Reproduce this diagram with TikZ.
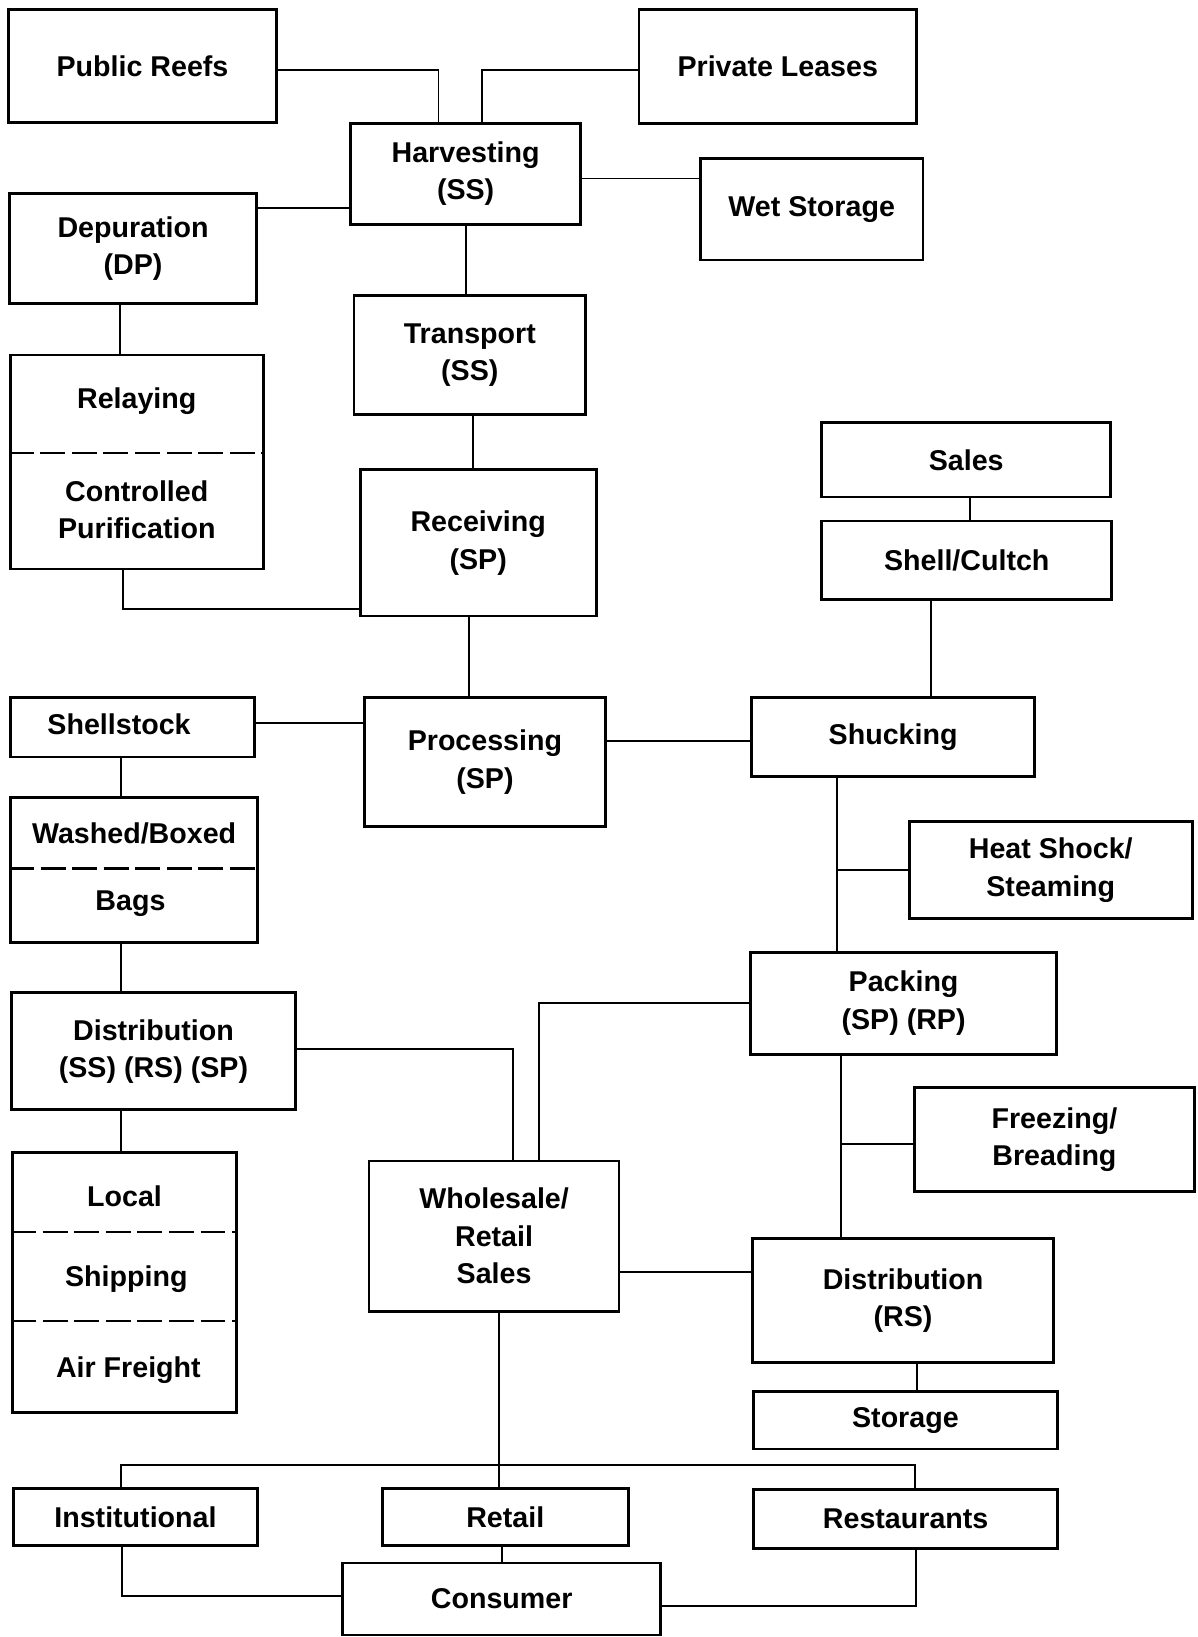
\documentclass[tikz,border=0pt]{standalone}
\usepackage{fontspec}
\setmainfont{Liberation Sans}
\usepackage{tikz}
\usetikzlibrary{positioning,calc}
\tikzset{
  flowbox/.style={draw=black, line width=1.9pt, fill=white, align=center, inner sep=0pt, font=\fontsize{19.5}{25.5}\selectfont\bfseries},
  flowtext/.style={align=center, inner sep=0pt, font=\fontsize{19.5}{25.5}\selectfont\bfseries},
  flowline/.style={line width=1.3pt},
  flowdash/.style={line width=1.6pt, dash pattern=on 17pt off 4.5pt},
  wh/.style 2 args={minimum width=#1*0.025cm, minimum height=#2*0.025cm}
}

\begin{document}
\begin{tikzpicture}[x=0.025cm, y=-0.025cm]
  \useasboundingbox (0,0) rectangle (1147,1568);

  % sources and harvesting
  \node[flowbox, wh={257}{108}] (reefs) at (136.5,63) {Public Reefs};
  \node[flowbox, wh={266}{109}] (leases) at (745,63.5) {Private Leases};
  \node[flowbox, wh={220}{97}] (harvest) at (446,166.5) {Harvesting\\(SS)};
  \node[flowbox, wh={213}{97}] (wetstore) at (777.5,200.5) {Wet Storage};
  \node[flowbox, wh={237}{106}] (depur) at (127.5,238) {Depuration\\(DP)};
  \node[flowbox, wh={222}{114}] (transport) at (450,340) {Transport\\(SS)};
  \node[flowbox, wh={242.5}{205}] (relay) at (131,442.5) {};
  \node[flowtext] (relaytop) at (131,384) {Relaying};
  \node[flowtext] (relaybot) at (131,488) {Controlled\\Purification};
  \node[flowbox, wh={226}{140}] (receive) at (458,520) {Receiving\\(SP)};

  % shell side
  \node[flowbox, wh={277}{71}] (sales) at (925.5,440.5) {Sales};
  \node[flowbox, wh={278}{75}] (shell) at (926,536.5) {Shell/Cultch};

  % processing
  \node[flowbox, wh={234}{57}] (shellstock) at (127,696.5) {};
  \node[flowtext] (shellstocktxt) at (114,694) {Shellstock};
  \node[flowbox, wh={231}{124}] (process) at (464.5,730) {Processing\\(SP)};
  \node[flowbox, wh={271}{76}] (shuck) at (855.5,706) {Shucking};
  \node[flowbox, wh={237}{139}] (washed) at (128.5,833.5) {};
  \node[flowtext] (washedtop) at (128.5,798) {Washed/Boxed};
  \node[flowtext] (washedbot) at (125,866) {Bags};
  \node[flowbox, wh={271}{93}] (heat) at (1006.5,833.5) {Heat Shock/\\Steaming};
  \node[flowbox, wh={293}{98}] (pack) at (865.5,961) {Packing\\(SP) (RP)};
  \node[flowbox, wh={272}{112}] (distss) at (147,1007) {Distribution\\(SS) (RS) (SP)};
  \node[flowbox, wh={268}{99}] (freeze) at (1010,1091.5) {Freezing/\\Breading};

  % distribution
  \node[flowbox, wh={214.5}{249}] (local) at (119.25,1228.5) {};
  \node[flowtext] (localtop) at (119.25,1146) {Local};
  \node[flowtext] (localmid) at (121,1225) {Shipping};
  \node[flowtext] (localbot) at (123,1312) {Air Freight};
  \node[flowbox, wh={239.5}{144}] (wholesale) at (473.25,1184) {Wholesale/\\Retail\\Sales};
  \node[flowbox, wh={288}{119}] (distrs) at (865,1245.5) {Distribution\\(RS)};
  \node[flowbox, wh={291.5}{55}] (storage) at (867.25,1360.5) {Storage};

  % end users
  \node[flowbox, wh={233.5}{54}] (inst) at (129.75,1453) {Institutional};
  \node[flowbox, wh={236}{54}] (retail) at (484,1453) {Retail};
  \node[flowbox, wh={291}{56}] (rest) at (867.5,1455) {Restaurants};
  \node[flowbox, wh={305}{69}] (consumer) at (480.5,1531.5) {Consumer};

  % dividers
  \draw[flowdash] ([yshift=0.2125cm]relay.west) -- ([yshift=0.2125cm]relay.east);
  \draw[flowdash] ([yshift=0.0375cm]washed.west) -- ([yshift=0.0375cm]washed.east);
  \draw[flowdash] ([yshift=1.2125cm]local.west) -- ([yshift=1.2125cm]local.east);
  \draw[flowdash] ([yshift=-0.925cm]local.west) -- ([yshift=-0.925cm]local.east);

  % connectors
  \draw[flowline] ([yshift=-0.1cm]reefs.east) -| ([xshift=-0.65cm]harvest.north);
  \draw[flowline] ([yshift=-0.0875cm]leases.west) -| ([xshift=0.4cm]harvest.north);
  \draw[flowline] ([yshift=-0.1125cm]harvest.east) coordinate (hw) -- (hw -| wetstore.west);
  \draw[flowline] ([yshift=-0.8125cm]harvest.west) coordinate (hd) -- (hd -| depur.east);
  \draw[flowline] (harvest.south) -- (harvest.south |- transport.north);
  \draw[flowline] ([xshift=-0.3125cm]depur.south) coordinate (dr) -- (dr |- relay.north);
  \draw[flowline] ([xshift=0.075cm]transport.south) coordinate (tr) -- (tr |- receive.north);
  \draw[flowline] ([xshift=-0.325cm]relay.south) |- ([yshift=-1.575cm]receive.west);
  \draw[flowline] ([xshift=0.0875cm]sales.south) coordinate (ss) -- (ss |- shell.north);
  \draw[flowline] ([xshift=-0.85cm]shell.south) coordinate (su) -- (su |- shuck.north);
  \draw[flowline] ([xshift=-0.225cm]receive.south) coordinate (rp) -- (rp |- process.north);
  \draw[flowline] ([yshift=0.1cm]shellstock.east) coordinate (sp) -- (sp -| process.west);
  \draw[flowline] ([yshift=0.5cm]process.east) coordinate (ps) -- (ps -| shuck.west);
  \draw[flowline] ([xshift=-0.2875cm]shellstock.south) coordinate (sw) -- (sw |- washed.north);
  \draw[flowline] ([xshift=-1.3375cm]shuck.south) coordinate (sk) -- (sk |- pack.north);
  \draw[flowline] (heat.west) -- (heat.west -| sk);
  \draw[flowline] ([xshift=-0.3125cm]washed.south) coordinate (wd) -- (wd |- distss.north);
  \draw[flowline] (pack.west) -| ([xshift=1.069cm]wholesale.north);
  \draw[flowline] ([yshift=0.0625cm]distss.east) -| ([xshift=0.456cm]wholesale.north);
  \draw[flowline] ([xshift=-1.4975cm]pack.south) coordinate (pd) -- (pd |- distrs.north);
  \draw[flowline] ([yshift=-0.1125cm]freeze.west) coordinate (fz) -- (fz -| pd);
  \draw[flowline] ([xshift=-0.785cm]distss.south) coordinate (dl) -- (dl |- local.north);
  \draw[flowline] ([yshift=-0.865cm]wholesale.east) coordinate (wr) -- (wr -| distrs.west);
  \draw[flowline] ([xshift=0.325cm]distrs.south) coordinate (ds) -- (ds |- storage.north);
  \draw[flowline] ([xshift=0.119cm]wholesale.south) coordinate (wt) -- (wt |- retail.north);
  \draw[flowline] ([xshift=-0.354cm]inst.north) -- ++(0,0.525cm) -| ([xshift=0.2225cm]rest.north);
  \draw[flowline] ([xshift=-0.085cm]retail.south) coordinate (rc) -- (rc |- consumer.north);
  \draw[flowline] ([xshift=-0.319cm]inst.south) |- ([yshift=0.0625cm]consumer.west);
  \draw[flowline] ([xshift=0.2575cm]rest.south) |- ([yshift=-0.1625cm]consumer.east);
\end{tikzpicture}
\end{document}
